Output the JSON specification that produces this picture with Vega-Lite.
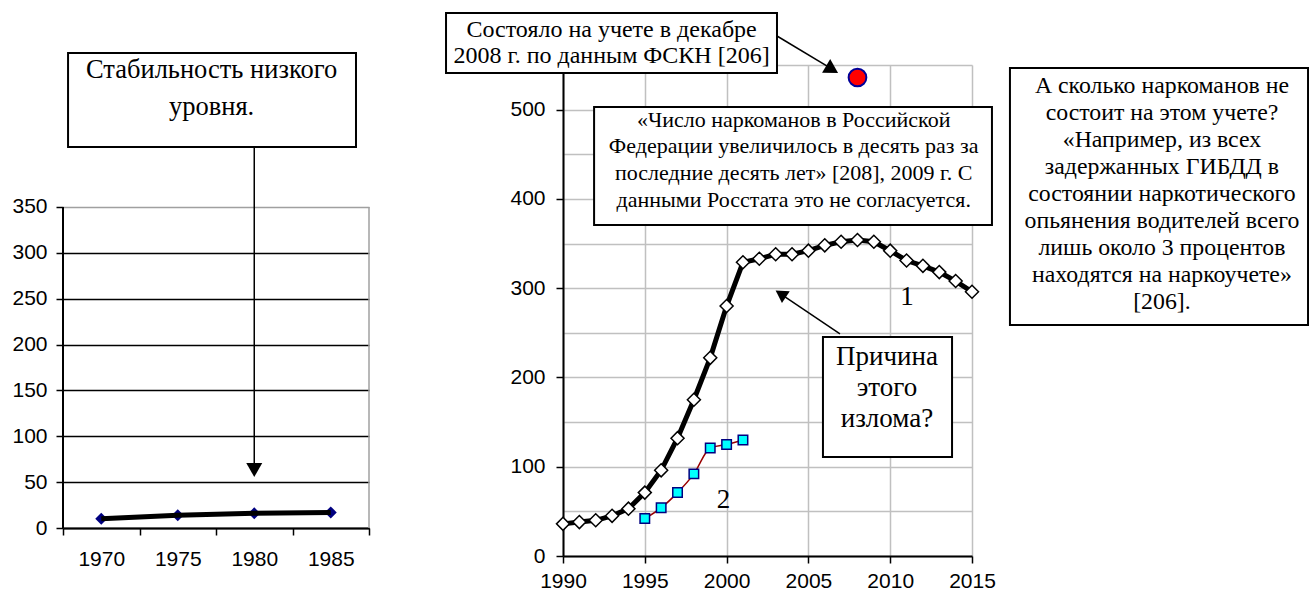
{
  "$schema": "https://vega.github.io/schema/vega-lite/v6.json",
  "padding": {"left": 11, "top": 11, "right": 0, "bottom": 0},
  "bounds": "flush",
  "spacing": 194,
  "config": {
    "view": {"stroke": null},
    "axis": {"labelFont": "Liberation Sans", "labelFontSize": 21, "labelColor": "#000", "domainColor": "#000", "domainWidth": 2, "tickColor": "#000", "tickWidth": 1.5, "tickSize": 7, "title": null, "grid": false}
  },
  "datasets": {
    "early": [
      {"year": 1970, "value": 10},
      {"year": 1975, "value": 14},
      {"year": 1980, "value": 16},
      {"year": 1985, "value": 17}
    ],
    "rosstat": [
      {"year": 1990, "value": 36}, {"year": 1991, "value": 38}, {"year": 1992, "value": 40},
      {"year": 1993, "value": 45}, {"year": 1994, "value": 53}, {"year": 1995, "value": 71},
      {"year": 1996, "value": 96}, {"year": 1997, "value": 132}, {"year": 1998, "value": 175},
      {"year": 1999, "value": 222}, {"year": 2000, "value": 280}, {"year": 2001, "value": 329},
      {"year": 2002, "value": 333}, {"year": 2003, "value": 338}, {"year": 2004, "value": 338},
      {"year": 2005, "value": 342}, {"year": 2006, "value": 348}, {"year": 2007, "value": 352},
      {"year": 2008, "value": 354}, {"year": 2009, "value": 352}, {"year": 2010, "value": 342},
      {"year": 2011, "value": 331}, {"year": 2012, "value": 325}, {"year": 2013, "value": 318},
      {"year": 2014, "value": 308}, {"year": 2015, "value": 296}
    ],
    "series2": [
      {"year": 1995, "value": 42}, {"year": 1996, "value": 54}, {"year": 1997, "value": 71},
      {"year": 1998, "value": 92}, {"year": 1999, "value": 121}, {"year": 2000, "value": 125},
      {"year": 2001, "value": 130}
    ],
    "fskn": [{"year": 2008, "value": 536}]
  },
  "hconcat": [
    {
      "width": 306,
      "height": 463,
      "layer": [
        {
          "data": {"name": "early"},
          "mark": {"type": "point", "shape": "diamond", "filled": true, "color": "#000080", "size": 144, "opacity": 1},
          "encoding": {
            "x": {"field": "year", "type": "quantitative",
              "scale": {"domain": [1967.5, 1987.5], "nice": false, "zero": false},
              "axis": {"values": [1967.5, 1972.5, 1977.5, 1982.5, 1987.5], "labelExpr": "datum.value < 1987 ? '' + (datum.value + 2.5) : ''", "labelOffset": 38.25, "labelFlush": false, "labelPadding": 13, "labelOverlap": false}},
            "y": {"field": "value", "type": "quantitative",
              "scale": {"domain": [0, 504.8], "nice": false, "zero": true},
              "axis": {"values": [0, 50, 100, 150, 200, 250, 300, 350], "domain": false, "grid": true, "gridColor": {"condition": {"test": "datum.value === 350", "value": "#a0a0a0"}, "value": "#000"}, "gridWidth": 1.5, "labelPadding": 9}}
          }
        },
        {
          "data": {"name": "early"},
          "mark": {"type": "line", "color": "#000", "strokeWidth": 5},
          "encoding": {"x": {"field": "year", "type": "quantitative"}, "y": {"field": "value", "type": "quantitative"}}
        },
        {
          "data": {"values": [{"year": 1967.5, "lo": 0, "hi": 350}]},
          "mark": {"type": "rule", "color": "#000", "strokeWidth": 2},
          "encoding": {"x": {"field": "year", "type": "quantitative"}, "y": {"field": "lo", "type": "quantitative"}, "y2": {"field": "hi"}}
        },
        {
          "data": {"values": [{"year": 1987.5, "lo": 0, "hi": 350}]},
          "mark": {"type": "rule", "color": "#a0a0a0", "strokeWidth": 1.5},
          "encoding": {"x": {"field": "year", "type": "quantitative"}, "y": {"field": "lo", "type": "quantitative"}, "y2": {"field": "hi"}}
        },
        {
          "data": {"values": [{"x1": 1967.83, "x2": 1986.65, "y1": 415.4, "y2": 517.9}]},
          "mark": {"type": "rect", "fill": "#fff", "stroke": "#000", "strokeWidth": 2},
          "encoding": {"x": {"field": "x1", "type": "quantitative"}, "x2": {"field": "x2"}, "y": {"field": "y1", "type": "quantitative"}, "y2": {"field": "y2"}}
        },
        {
          "data": {"values": [{"x": 1977.21, "y": 490.7, "label": "Стабильность низкого\nуровня."}]},
          "mark": {"type": "text", "font": "Liberation Serif", "color": "#000", "fontSize": 26.5, "lineHeight": 36.7, "align": "center", "baseline": "alphabetic", "lineBreak": "\n"},
          "encoding": {"x": {"field": "x", "type": "quantitative"}, "y": {"field": "y", "type": "quantitative"}, "text": {"field": "label"}}
        },
        {
          "data": {"values": [{"year": 1980, "from": 415.4, "to": 64}]},
          "mark": {"type": "rule", "color": "#000", "strokeWidth": 1.5},
          "encoding": {"x": {"field": "year", "type": "quantitative"}, "y": {"field": "from", "type": "quantitative"}, "y2": {"field": "to"}}
        },
        {
          "data": {"values": [{"year": 1980, "value": 63.2}]},
          "mark": {"type": "point", "shape": "triangle-up", "filled": true, "color": "#000", "size": 256, "angle": 180, "opacity": 1},
          "encoding": {"x": {"field": "year", "type": "quantitative"}, "y": {"field": "value", "type": "quantitative"}}
        }
      ]
    },
    {
      "width": 409,
      "height": 491,
      "layer": [
        {
          "data": {"name": "rosstat"},
          "mark": {"type": "line", "color": "#000", "strokeWidth": 5},
          "encoding": {
            "x": {"field": "year", "type": "quantitative",
              "scale": {"domain": [1990, 2015], "nice": false, "zero": false},
              "axis": {"values": [1990, 1995, 2000, 2005, 2010, 2015], "format": "d", "grid": true, "gridColor": "#c0c0c0", "gridWidth": 1.5, "labelPadding": 7, "labelFlush": false, "labelOverlap": false}},
            "y": {"field": "value", "type": "quantitative",
              "scale": {"domain": [0, 550], "nice": false},
              "axis": {"values": [0, 50, 100, 150, 200, 250, 300, 350, 400, 450, 500, 550], "labelExpr": "datum.value % 100 === 0 ? datum.label : ''", "tickOpacity": {"condition": {"test": "datum.value % 100 !== 0", "value": 0}, "value": 1}, "grid": true, "gridColor": "#c0c0c0", "gridWidth": 1.5, "labelPadding": 11}}
          }
        },
        {
          "data": {"name": "rosstat"},
          "mark": {"type": "point", "shape": "diamond", "filled": true, "fill": "#fff", "stroke": "#000", "strokeWidth": 1.5, "size": 170, "opacity": 1},
          "encoding": {"x": {"field": "year", "type": "quantitative"}, "y": {"field": "value", "type": "quantitative"}}
        },
        {
          "data": {"name": "series2"},
          "mark": {"type": "line", "color": "#990000", "strokeWidth": 1.5, "interpolate": "monotone"},
          "encoding": {"x": {"field": "year", "type": "quantitative"}, "y": {"field": "value", "type": "quantitative"}}
        },
        {
          "data": {"name": "series2"},
          "mark": {"type": "point", "shape": "square", "filled": true, "fill": "#00ffff", "stroke": "#000080", "strokeWidth": 1.5, "size": 90, "opacity": 1},
          "encoding": {"x": {"field": "year", "type": "quantitative"}, "y": {"field": "value", "type": "quantitative"}}
        },
        {
          "data": {"name": "fskn"},
          "mark": {"type": "point", "shape": "circle", "filled": true, "fill": "#ff0000", "stroke": "#000099", "strokeWidth": 2, "size": 314, "opacity": 1},
          "encoding": {"x": {"field": "year", "type": "quantitative"}, "y": {"field": "value", "type": "quantitative"}}
        },
        {
          "data": {"values": [
            {"x1": 1982.85, "x2": 2003.08, "y1": 541.0, "y2": 608.3},
            {"x1": 1991.9, "x2": 2016.22, "y1": 370.8, "y2": 503.0},
            {"x1": 2005.89, "x2": 2013.78, "y1": 110.9, "y2": 245.3},
            {"x1": 2017.32, "x2": 2035.54, "y1": 258.8, "y2": 546.6}
          ]},
          "mark": {"type": "rect", "fill": "#fff", "stroke": "#000", "strokeWidth": 2},
          "encoding": {"x": {"field": "x1", "type": "quantitative"}, "x2": {"field": "x2"}, "y": {"field": "y1", "type": "quantitative"}, "y2": {"field": "y2"}}
        },
        {
          "data": {"values": [{"x": 1992.97, "y": 581.7, "label": "Состояло на учете в декабре\n2008 г. по данным ФСКН [206]"}]},
          "mark": {"type": "text", "font": "Liberation Serif", "color": "#000", "fontSize": 24, "lineHeight": 26.7, "align": "center", "baseline": "alphabetic", "lineBreak": "\n"},
          "encoding": {"x": {"field": "x", "type": "quantitative"}, "y": {"field": "y", "type": "quantitative"}, "text": {"field": "label"}}
        },
        {
          "data": {"values": [{"x": 2004.1, "y": 481.0, "label": "«Число наркоманов в Российской\nФедерации увеличилось в десять раз за\nпоследние десять лет» [208], 2009 г. С\nданными Росстата это не согласуется."}]},
          "mark": {"type": "text", "font": "Liberation Serif", "color": "#000", "fontSize": 22, "lineHeight": 26.7, "align": "center", "baseline": "alphabetic", "lineBreak": "\n"},
          "encoding": {"x": {"field": "x", "type": "quantitative"}, "y": {"field": "y", "type": "quantitative"}, "text": {"field": "label"}}
        },
        {
          "data": {"values": [{"x": 2009.8, "y": 213.9, "label": "Причина\nэтого\nизлома?"}]},
          "mark": {"type": "text", "font": "Liberation Serif", "color": "#000", "fontSize": 27, "lineHeight": 31, "align": "center", "baseline": "alphabetic", "lineBreak": "\n"},
          "encoding": {"x": {"field": "x", "type": "quantitative"}, "y": {"field": "y", "type": "quantitative"}, "text": {"field": "label"}}
        },
        {
          "data": {"values": [{"x": 2026.61, "y": 518.6, "label": "А сколько наркоманов не\nсостоит на этом учете?\n«Например, из всех\nзадержанных ГИБДД в\nсостоянии наркотического\nопьянения водителей всего\nлишь около 3 процентов\nнаходятся на наркоучете»\n[206]."}]},
          "mark": {"type": "text", "font": "Liberation Serif", "color": "#000", "fontSize": 23.8, "lineHeight": 27, "align": "center", "baseline": "alphabetic", "lineBreak": "\n"},
          "encoding": {"x": {"field": "x", "type": "quantitative"}, "y": {"field": "y", "type": "quantitative"}, "text": {"field": "label"}}
        },
        {
          "data": {"values": [{"x": 2011.03, "y": 281.2, "label": "1"}, {"x": 1999.81, "y": 53.8, "label": "2"}]},
          "mark": {"type": "text", "font": "Liberation Serif", "color": "#000", "fontSize": 27, "align": "center", "baseline": "alphabetic"},
          "encoding": {"x": {"field": "x", "type": "quantitative"}, "y": {"field": "y", "type": "quantitative"}, "text": {"field": "label"}}
        },
        {
          "data": {"values": [
            {"x1": 2003.08, "y1": 582.5, "x2": 2006.63, "y2": 543.4},
            {"x1": 2006.93, "y1": 248.7, "x2": 2003.14, "y2": 295.7}
          ]},
          "mark": {"type": "rule", "color": "#000", "strokeWidth": 1.5},
          "encoding": {"x": {"field": "x1", "type": "quantitative"}, "y": {"field": "y1", "type": "quantitative"}, "x2": {"field": "x2"}, "y2": {"field": "y2"}}
        },
        {
          "data": {"values": [{"x": 2006.45, "y": 545.0}]},
          "mark": {"type": "point", "shape": "triangle-up", "filled": true, "color": "#000", "size": 256, "angle": 120.5, "opacity": 1},
          "encoding": {"x": {"field": "x", "type": "quantitative"}, "y": {"field": "y", "type": "quantitative"}}
        },
        {
          "data": {"values": [{"x": 2003.31, "y": 293.7}]},
          "mark": {"type": "point", "shape": "triangle-up", "filled": true, "color": "#000", "size": 200, "angle": 303.5, "opacity": 1},
          "encoding": {"x": {"field": "x", "type": "quantitative"}, "y": {"field": "y", "type": "quantitative"}}
        }
      ]
    }
  ]
}
